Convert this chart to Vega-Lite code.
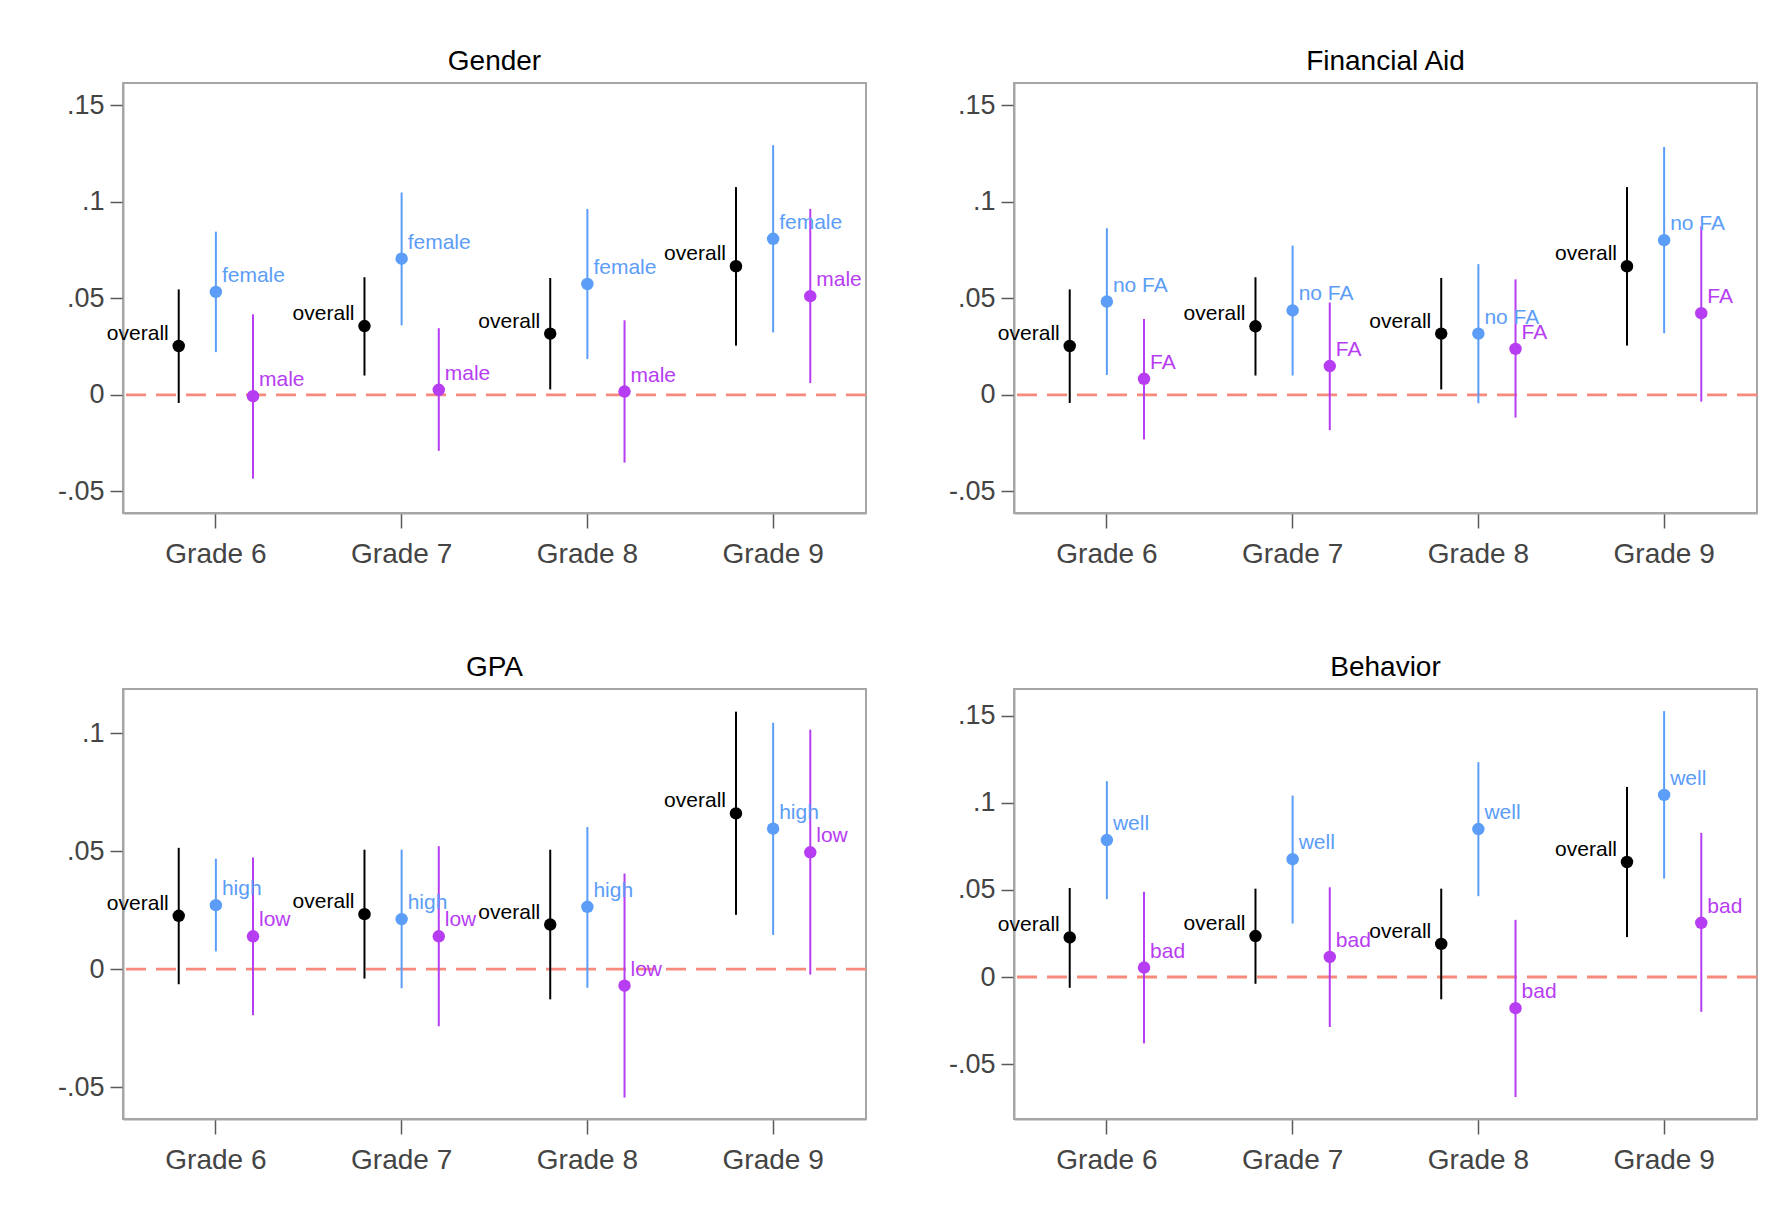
{
  "$schema": "https://vega.github.io/schema/vega-lite/v6.json",
  "background": "white",
  "padding": {"left": 56, "top": 47, "right": 10, "bottom": 10},
  "datasets": {
    "est": [
      {"panel": "Gender", "grade": "Grade 6", "type": "overall", "label": "overall", "est": 0.0253, "lo": -0.0042, "hi": 0.0546},
      {"panel": "Gender", "grade": "Grade 6", "type": "group1", "label": "female", "est": 0.0533, "lo": 0.0221, "hi": 0.0845},
      {"panel": "Gender", "grade": "Grade 6", "type": "group2", "label": "male", "est": -0.0007, "lo": -0.0434, "hi": 0.0417},
      {"panel": "Gender", "grade": "Grade 7", "type": "overall", "label": "overall", "est": 0.0356, "lo": 0.0100, "hi": 0.0609},
      {"panel": "Gender", "grade": "Grade 7", "type": "group1", "label": "female", "est": 0.0705, "lo": 0.0360, "hi": 0.1048},
      {"panel": "Gender", "grade": "Grade 7", "type": "group2", "label": "male", "est": 0.0026, "lo": -0.0290, "hi": 0.0345},
      {"panel": "Gender", "grade": "Grade 8", "type": "overall", "label": "overall", "est": 0.0317, "lo": 0.0028, "hi": 0.0605},
      {"panel": "Gender", "grade": "Grade 8", "type": "group1", "label": "female", "est": 0.0574, "lo": 0.0185, "hi": 0.0963},
      {"panel": "Gender", "grade": "Grade 8", "type": "group2", "label": "male", "est": 0.0017, "lo": -0.0351, "hi": 0.0386},
      {"panel": "Gender", "grade": "Grade 9", "type": "overall", "label": "overall", "est": 0.0666, "lo": 0.0255, "hi": 0.1076},
      {"panel": "Gender", "grade": "Grade 9", "type": "group1", "label": "female", "est": 0.0808, "lo": 0.0323, "hi": 0.1293},
      {"panel": "Gender", "grade": "Grade 9", "type": "group2", "label": "male", "est": 0.0511, "lo": 0.0061, "hi": 0.0963},

      {"panel": "Financial Aid", "grade": "Grade 6", "type": "overall", "label": "overall", "est": 0.0253, "lo": -0.0042, "hi": 0.0546},
      {"panel": "Financial Aid", "grade": "Grade 6", "type": "group1", "label": "no FA", "est": 0.0483, "lo": 0.0103, "hi": 0.0863},
      {"panel": "Financial Aid", "grade": "Grade 6", "type": "group2", "label": "FA", "est": 0.0083, "lo": -0.0231, "hi": 0.0393},
      {"panel": "Financial Aid", "grade": "Grade 7", "type": "overall", "label": "overall", "est": 0.0355, "lo": 0.0100, "hi": 0.0609},
      {"panel": "Financial Aid", "grade": "Grade 7", "type": "group1", "label": "no FA", "est": 0.0437, "lo": 0.0100, "hi": 0.0773},
      {"panel": "Financial Aid", "grade": "Grade 7", "type": "group2", "label": "FA", "est": 0.0149, "lo": -0.0183, "hi": 0.0478},
      {"panel": "Financial Aid", "grade": "Grade 8", "type": "overall", "label": "overall", "est": 0.0317, "lo": 0.0028, "hi": 0.0605},
      {"panel": "Financial Aid", "grade": "Grade 8", "type": "group1", "label": "no FA", "est": 0.0317, "lo": -0.0044, "hi": 0.0677},
      {"panel": "Financial Aid", "grade": "Grade 8", "type": "group2", "label": "FA", "est": 0.0238, "lo": -0.0118, "hi": 0.0598},
      {"panel": "Financial Aid", "grade": "Grade 9", "type": "overall", "label": "overall", "est": 0.0666, "lo": 0.0255, "hi": 0.1076},
      {"panel": "Financial Aid", "grade": "Grade 9", "type": "group1", "label": "no FA", "est": 0.0801, "lo": 0.0319, "hi": 0.1284},
      {"panel": "Financial Aid", "grade": "Grade 9", "type": "group2", "label": "FA", "est": 0.0423, "lo": -0.0035, "hi": 0.0873},

      {"panel": "GPA", "grade": "Grade 6", "type": "overall", "label": "overall", "est": 0.0226, "lo": -0.0064, "hi": 0.0514},
      {"panel": "GPA", "grade": "Grade 6", "type": "group1", "label": "high", "est": 0.0271, "lo": 0.0075, "hi": 0.0468},
      {"panel": "GPA", "grade": "Grade 6", "type": "group2", "label": "low", "est": 0.0139, "lo": -0.0195, "hi": 0.0473},
      {"panel": "GPA", "grade": "Grade 7", "type": "overall", "label": "overall", "est": 0.0233, "lo": -0.0040, "hi": 0.0506},
      {"panel": "GPA", "grade": "Grade 7", "type": "group1", "label": "high", "est": 0.0212, "lo": -0.0081, "hi": 0.0506},
      {"panel": "GPA", "grade": "Grade 7", "type": "group2", "label": "low", "est": 0.0139, "lo": -0.0242, "hi": 0.0521},
      {"panel": "GPA", "grade": "Grade 8", "type": "overall", "label": "overall", "est": 0.0189, "lo": -0.0128, "hi": 0.0506},
      {"panel": "GPA", "grade": "Grade 8", "type": "group1", "label": "high", "est": 0.0264, "lo": -0.0079, "hi": 0.0602},
      {"panel": "GPA", "grade": "Grade 8", "type": "group2", "label": "low", "est": -0.0070, "lo": -0.0544, "hi": 0.0405},
      {"panel": "GPA", "grade": "Grade 9", "type": "overall", "label": "overall", "est": 0.0660, "lo": 0.0230, "hi": 0.1091},
      {"panel": "GPA", "grade": "Grade 9", "type": "group1", "label": "high", "est": 0.0595, "lo": 0.0145, "hi": 0.1044},
      {"panel": "GPA", "grade": "Grade 9", "type": "group2", "label": "low", "est": 0.0495, "lo": -0.0023, "hi": 0.1015},

      {"panel": "Behavior", "grade": "Grade 6", "type": "overall", "label": "overall", "est": 0.0227, "lo": -0.0062, "hi": 0.0511},
      {"panel": "Behavior", "grade": "Grade 6", "type": "group1", "label": "well", "est": 0.0786, "lo": 0.0447, "hi": 0.1124},
      {"panel": "Behavior", "grade": "Grade 6", "type": "group2", "label": "bad", "est": 0.0054, "lo": -0.0381, "hi": 0.0489},
      {"panel": "Behavior", "grade": "Grade 7", "type": "overall", "label": "overall", "est": 0.0235, "lo": -0.0039, "hi": 0.0507},
      {"panel": "Behavior", "grade": "Grade 7", "type": "group1", "label": "well", "est": 0.0676, "lo": 0.0307, "hi": 0.1041},
      {"panel": "Behavior", "grade": "Grade 7", "type": "group2", "label": "bad", "est": 0.0115, "lo": -0.0287, "hi": 0.0515},
      {"panel": "Behavior", "grade": "Grade 8", "type": "overall", "label": "overall", "est": 0.0190, "lo": -0.0128, "hi": 0.0507},
      {"panel": "Behavior", "grade": "Grade 8", "type": "group1", "label": "well", "est": 0.0849, "lo": 0.0464, "hi": 0.1233},
      {"panel": "Behavior", "grade": "Grade 8", "type": "group2", "label": "bad", "est": -0.0179, "lo": -0.0689, "hi": 0.0328},
      {"panel": "Behavior", "grade": "Grade 9", "type": "overall", "label": "overall", "est": 0.0660, "lo": 0.0229, "hi": 0.1091},
      {"panel": "Behavior", "grade": "Grade 9", "type": "group1", "label": "well", "est": 0.1045, "lo": 0.0565, "hi": 0.1526},
      {"panel": "Behavior", "grade": "Grade 9", "type": "group2", "label": "bad", "est": 0.0311, "lo": -0.0200, "hi": 0.0827}
    ],
    "zero": [{"zero": 0}]
  },
  "columns": 2,
  "spacing": {"row": 176, "column": 148},
  "bounds": "flush",
  "concat": [
    {
      "title": "Gender",
      "width": 743, "height": 430,
      "data": {"name": "est"},
      "transform": [{"filter": "datum.panel == 'Gender'"}],
      "encoding": {
        "x": {"field": "grade", "type": "nominal", "scale": {"paddingInner": 0, "paddingOuter": 0}, "axis": {"labelAngle": 0, "labelFontSize": 28, "tickSize": 15, "labelPadding": 12, "title": null}},
        "xOffset": {"field": "type", "type": "nominal", "sort": ["overall", "group1", "group2"], "scale": {"paddingInner": 0, "paddingOuter": 1}},
        "color": {"field": "type", "type": "nominal", "scale": {"domain": ["overall", "group1", "group2"], "range": ["#000000", "#5C9DF7", "#B73DF2"]}, "legend": null}
      },
      "layer": [
        {"data": {"name": "zero"}, "mark": {"type": "rule", "color": "#F7897D", "strokeWidth": 2.8, "strokeDash": [20, 10]}, "encoding": {"x": null, "xOffset": null, "color": null, "y": {"field": "zero", "type": "quantitative"}}},
        {"mark": {"type": "rule", "strokeWidth": 2}, "encoding": {"y": {"field": "lo", "type": "quantitative", "scale": {"domain": [-0.0612, 0.1615], "nice": false, "zero": false}, "axis": {"values": [-0.05, 0, 0.05, 0.1, 0.15], "format": ".2~f", "labelExpr": "replace(replace(datum.label, '0.', '.'), '\u2212', '-')", "labelFontSize": 27, "tickSize": 13, "labelPadding": 6, "title": null}}, "y2": {"field": "hi"}}},
        {"mark": {"type": "point", "filled": true, "size": 155, "opacity": 1}, "encoding": {"y": {"field": "est", "type": "quantitative"}}},
        {"transform": [{"filter": "datum.type == 'overall'"}], "mark": {"type": "text", "align": "right", "baseline": "alphabetic", "dx": -10, "dy": -6, "fontSize": 21}, "encoding": {"y": {"field": "est", "type": "quantitative"}, "text": {"field": "label"}}},
        {"transform": [{"filter": "datum.type != 'overall'"}], "mark": {"type": "text", "align": "left", "baseline": "alphabetic", "dx": 6, "dy": -10, "fontSize": 21}, "encoding": {"y": {"field": "est", "type": "quantitative"}, "text": {"field": "label"}}}
      ]
    },
    {
      "title": "Financial Aid",
      "width": 743, "height": 430,
      "data": {"name": "est"},
      "transform": [{"filter": "datum.panel == 'Financial Aid'"}],
      "encoding": {
        "x": {"field": "grade", "type": "nominal", "scale": {"paddingInner": 0, "paddingOuter": 0}, "axis": {"labelAngle": 0, "labelFontSize": 28, "tickSize": 15, "labelPadding": 12, "title": null}},
        "xOffset": {"field": "type", "type": "nominal", "sort": ["overall", "group1", "group2"], "scale": {"paddingInner": 0, "paddingOuter": 1}},
        "color": {"field": "type", "type": "nominal", "scale": {"domain": ["overall", "group1", "group2"], "range": ["#000000", "#5C9DF7", "#B73DF2"]}, "legend": null}
      },
      "layer": [
        {"data": {"name": "zero"}, "mark": {"type": "rule", "color": "#F7897D", "strokeWidth": 2.8, "strokeDash": [20, 10]}, "encoding": {"x": null, "xOffset": null, "color": null, "y": {"field": "zero", "type": "quantitative"}}},
        {"mark": {"type": "rule", "strokeWidth": 2}, "encoding": {"y": {"field": "lo", "type": "quantitative", "scale": {"domain": [-0.0612, 0.1615], "nice": false, "zero": false}, "axis": {"values": [-0.05, 0, 0.05, 0.1, 0.15], "format": ".2~f", "labelExpr": "replace(replace(datum.label, '0.', '.'), '\u2212', '-')", "labelFontSize": 27, "tickSize": 13, "labelPadding": 6, "title": null}}, "y2": {"field": "hi"}}},
        {"mark": {"type": "point", "filled": true, "size": 155, "opacity": 1}, "encoding": {"y": {"field": "est", "type": "quantitative"}}},
        {"transform": [{"filter": "datum.type == 'overall'"}], "mark": {"type": "text", "align": "right", "baseline": "alphabetic", "dx": -10, "dy": -6, "fontSize": 21}, "encoding": {"y": {"field": "est", "type": "quantitative"}, "text": {"field": "label"}}},
        {"transform": [{"filter": "datum.type != 'overall'"}], "mark": {"type": "text", "align": "left", "baseline": "alphabetic", "dx": 6, "dy": -10, "fontSize": 21}, "encoding": {"y": {"field": "est", "type": "quantitative"}, "text": {"field": "label"}}}
      ]
    },
    {
      "title": "GPA",
      "width": 743, "height": 430,
      "data": {"name": "est"},
      "transform": [{"filter": "datum.panel == 'GPA'"}],
      "encoding": {
        "x": {"field": "grade", "type": "nominal", "scale": {"paddingInner": 0, "paddingOuter": 0}, "axis": {"labelAngle": 0, "labelFontSize": 28, "tickSize": 15, "labelPadding": 12, "title": null}},
        "xOffset": {"field": "type", "type": "nominal", "sort": ["overall", "group1", "group2"], "scale": {"paddingInner": 0, "paddingOuter": 1}},
        "color": {"field": "type", "type": "nominal", "scale": {"domain": ["overall", "group1", "group2"], "range": ["#000000", "#5C9DF7", "#B73DF2"]}, "legend": null}
      },
      "layer": [
        {"data": {"name": "zero"}, "mark": {"type": "rule", "color": "#F7897D", "strokeWidth": 2.8, "strokeDash": [20, 10]}, "encoding": {"x": null, "xOffset": null, "color": null, "y": {"field": "zero", "type": "quantitative"}}},
        {"mark": {"type": "rule", "strokeWidth": 2}, "encoding": {"y": {"field": "lo", "type": "quantitative", "scale": {"domain": [-0.0635, 0.1187], "nice": false, "zero": false}, "axis": {"values": [-0.05, 0, 0.05, 0.1], "format": ".2~f", "labelExpr": "replace(replace(datum.label, '0.', '.'), '\u2212', '-')", "labelFontSize": 27, "tickSize": 13, "labelPadding": 6, "title": null}}, "y2": {"field": "hi"}}},
        {"mark": {"type": "point", "filled": true, "size": 155, "opacity": 1}, "encoding": {"y": {"field": "est", "type": "quantitative"}}},
        {"transform": [{"filter": "datum.type == 'overall'"}], "mark": {"type": "text", "align": "right", "baseline": "alphabetic", "dx": -10, "dy": -6, "fontSize": 21}, "encoding": {"y": {"field": "est", "type": "quantitative"}, "text": {"field": "label"}}},
        {"transform": [{"filter": "datum.type != 'overall'"}], "mark": {"type": "text", "align": "left", "baseline": "alphabetic", "dx": 6, "dy": -10, "fontSize": 21}, "encoding": {"y": {"field": "est", "type": "quantitative"}, "text": {"field": "label"}}}
      ]
    },
    {
      "title": "Behavior",
      "width": 743, "height": 430,
      "data": {"name": "est"},
      "transform": [{"filter": "datum.panel == 'Behavior'"}],
      "encoding": {
        "x": {"field": "grade", "type": "nominal", "scale": {"paddingInner": 0, "paddingOuter": 0}, "axis": {"labelAngle": 0, "labelFontSize": 28, "tickSize": 15, "labelPadding": 12, "title": null}},
        "xOffset": {"field": "type", "type": "nominal", "sort": ["overall", "group1", "group2"], "scale": {"paddingInner": 0, "paddingOuter": 1}},
        "color": {"field": "type", "type": "nominal", "scale": {"domain": ["overall", "group1", "group2"], "range": ["#000000", "#5C9DF7", "#B73DF2"]}, "legend": null}
      },
      "layer": [
        {"data": {"name": "zero"}, "mark": {"type": "rule", "color": "#F7897D", "strokeWidth": 2.8, "strokeDash": [20, 10]}, "encoding": {"x": null, "xOffset": null, "color": null, "y": {"field": "zero", "type": "quantitative"}}},
        {"mark": {"type": "rule", "strokeWidth": 2}, "encoding": {"y": {"field": "lo", "type": "quantitative", "scale": {"domain": [-0.0815, 0.1653], "nice": false, "zero": false}, "axis": {"values": [-0.05, 0, 0.05, 0.1, 0.15], "format": ".2~f", "labelExpr": "replace(replace(datum.label, '0.', '.'), '\u2212', '-')", "labelFontSize": 27, "tickSize": 13, "labelPadding": 6, "title": null}}, "y2": {"field": "hi"}}},
        {"mark": {"type": "point", "filled": true, "size": 155, "opacity": 1}, "encoding": {"y": {"field": "est", "type": "quantitative"}}},
        {"transform": [{"filter": "datum.type == 'overall'"}], "mark": {"type": "text", "align": "right", "baseline": "alphabetic", "dx": -10, "dy": -6, "fontSize": 21}, "encoding": {"y": {"field": "est", "type": "quantitative"}, "text": {"field": "label"}}},
        {"transform": [{"filter": "datum.type != 'overall'"}], "mark": {"type": "text", "align": "left", "baseline": "alphabetic", "dx": 6, "dy": -10, "fontSize": 21}, "encoding": {"y": {"field": "est", "type": "quantitative"}, "text": {"field": "label"}}}
      ]
    }
  ],
  "config": {
    "font": "Liberation Sans",
    "view": {"stroke": "#A6A6A6", "strokeWidth": 2},
    "axis": {"domainColor": "#A6A6A6", "domainWidth": 2, "tickColor": "#5A5A5A", "tickWidth": 1.5, "labelColor": "#444444", "grid": false},
    "title": {"fontSize": 28, "fontWeight": "normal", "color": "#000000", "offset": 7}
  }
}
